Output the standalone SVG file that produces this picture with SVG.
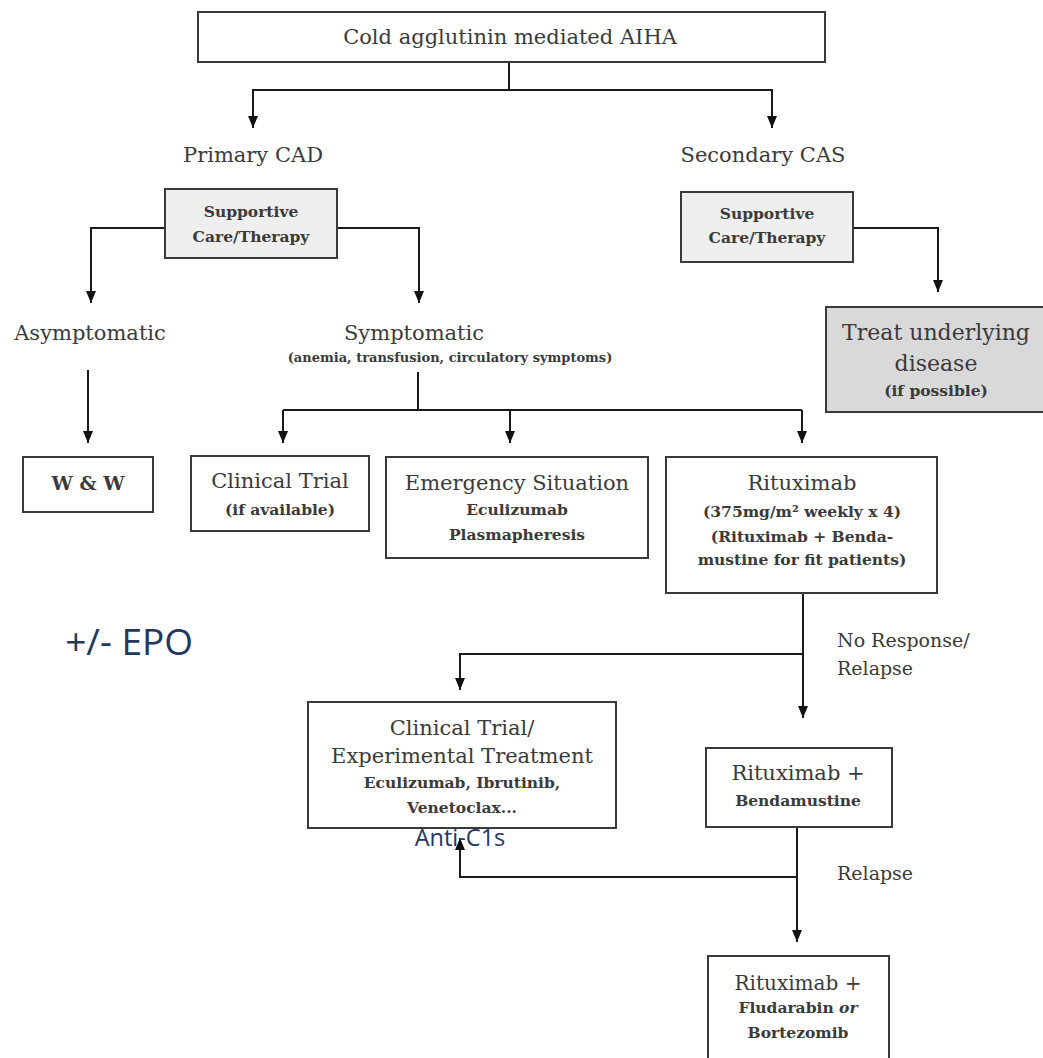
<svg xmlns="http://www.w3.org/2000/svg" width="1043" height="1058" viewBox="0 0 1043 1058">
<style>
.box{fill:#fff;stroke:#3a3a3a;stroke-width:2}
.sup{fill:#efefef;stroke:#3a3a3a;stroke-width:2}
.dark{fill:#d9d9d9;stroke:#3a3a3a;stroke-width:2}
.t{font-family:"DejaVu Serif","Liberation Serif",serif;font-size:21px;fill:#3a3a3a;text-anchor:middle}
.b{font-family:"DejaVu Serif","Liberation Serif",serif;font-size:15.5px;font-weight:bold;fill:#3a3a3a;text-anchor:middle}
.lbl{font-family:"DejaVu Serif","Liberation Serif",serif;font-size:19px;fill:#3a3a3a}
.blue{font-family:"Open Sans","Liberation Sans",sans-serif;fill:#24365e}
.c{fill:none;stroke:#1a1a1a;stroke-width:2}
</style>
<defs>
<marker id="arr" viewBox="0 0 10 12" refX="5" refY="12" markerWidth="10" markerHeight="12" markerUnits="userSpaceOnUse" orient="0">
<path d="M0,0 L10,0 L5,12 z" fill="#111"/>
</marker>
<marker id="arrUp" viewBox="0 0 10 12" refX="5" refY="0" markerWidth="10" markerHeight="12" markerUnits="userSpaceOnUse" orient="0">
<path d="M0,12 L10,12 L5,0 z" fill="#111"/>
</marker>
</defs>
<rect width="1043" height="1058" fill="#fff"/>

<g id="connectors">
<path class="c" d="M509,62 V90"/>
<path class="c" d="M509,90 H253 V128" marker-end="url(#arr)"/>
<path class="c" d="M509,90 H772 V128" marker-end="url(#arr)"/>
<path class="c" d="M165,228 H91 V303" marker-end="url(#arr)"/>
<path class="c" d="M337,228 H419 V303" marker-end="url(#arr)"/>
<path class="c" d="M88,370 V443" marker-end="url(#arr)"/>
<path class="c" d="M853,228 H938 V292" marker-end="url(#arr)"/>
<path class="c" d="M418,372 V410"/>
<path class="c" d="M283,410 H802"/>
<path class="c" d="M283,410 V443" marker-end="url(#arr)"/>
<path class="c" d="M510,410 V443" marker-end="url(#arr)"/>
<path class="c" d="M802,410 V443" marker-end="url(#arr)"/>
<path class="c" d="M803,593 V718" marker-end="url(#arr)"/>
<path class="c" d="M803,654 H460 V690" marker-end="url(#arr)"/>
<path class="c" d="M797,827 V942" marker-end="url(#arr)"/>
<path class="c" d="M797,877 H460 V838" marker-end="url(#arrUp)"/>
</g>

<g id="root">
<rect class="box" x="198" y="12" width="627" height="50"/>
<text class="t" x="510" y="44">Cold agglutinin mediated AIHA</text>
</g>

<g id="primary">
<text class="t" x="253" y="162">Primary CAD</text>
</g>
<g id="secondary">
<text class="t" x="763" y="162">Secondary CAS</text>
</g>

<g id="supportive-primary">
<rect class="sup" x="165" y="189" width="172" height="69"/>
<text class="b" x="251" y="217">Supportive</text>
<text class="b" x="251" y="242">Care/Therapy</text>
</g>

<g id="supportive-secondary">
<rect class="sup" x="681" y="192" width="172" height="70"/>
<text class="b" x="767" y="219">Supportive</text>
<text class="b" x="767" y="243">Care/Therapy</text>
</g>

<g id="treat-underlying">
<rect class="dark" x="826" y="307" width="230" height="105"/>
<text class="t" x="936" y="340" style="font-size:22px">Treat underlying</text>
<text class="t" x="936" y="371" style="font-size:22px">disease</text>
<text class="b" x="936" y="396">(if possible)</text>
</g>

<g id="asymptomatic">
<text class="t" x="90" y="340">Asymptomatic</text>
</g>

<g id="symptomatic">
<text class="t" x="414" y="340">Symptomatic</text>
<text class="b" x="450" y="362" style="font-size:13px">(anemia, transfusion, circulatory symptoms)</text>
</g>

<g id="ww">
<rect class="box" x="23" y="457" width="130" height="55"/>
<text class="t" x="88" y="490" style="font-size:19px;font-weight:bold">W &amp; W</text>
</g>

<g id="clinical-trial">
<rect class="box" x="191" y="456" width="178" height="75"/>
<text class="t" x="280" y="488">Clinical Trial</text>
<text class="b" x="280" y="515">(if available)</text>
</g>

<g id="emergency">
<rect class="box" x="386" y="457" width="262" height="101"/>
<text class="t" x="517" y="490">Emergency Situation</text>
<text class="b" x="517" y="515">Eculizumab</text>
<text class="b" x="517" y="540">Plasmapheresis</text>
</g>

<g id="rituximab">
<rect class="box" x="666" y="457" width="271" height="136"/>
<text class="t" x="802" y="490">Rituximab</text>
<text class="b" x="802" y="517">(375mg/m² weekly x 4)</text>
<text class="b" x="802" y="542">(Rituximab + Benda-</text>
<text class="b" x="802" y="565">mustine for fit patients)</text>
</g>

<g id="label-no-response">
<text class="lbl" x="837" y="647">No Response/</text>
<text class="lbl" x="837" y="675">Relapse</text>
</g>

<g id="epo">
<text class="blue" x="193" y="655" style="font-size:37px;text-anchor:end">+/- EPO</text>
</g>

<g id="experimental">
<rect class="box" x="308" y="702" width="308" height="126"/>
<text class="t" x="462" y="735">Clinical Trial/</text>
<text class="t" x="462" y="763">Experimental Treatment</text>
<text class="b" x="462" y="788">Eculizumab, Ibrutinib,</text>
<text class="b" x="462" y="813">Venetoclax...</text>
<text class="blue" x="460" y="846" style="font-size:23.5px;text-anchor:middle">Anti-C1s</text>
</g>

<g id="ritux-benda">
<rect class="box" x="706" y="748" width="186" height="79"/>
<text class="t" x="798" y="780">Rituximab +</text>
<text class="b" x="798" y="806">Bendamustine</text>
</g>

<g id="label-relapse">
<text class="lbl" x="837" y="880">Relapse</text>
</g>

<g id="ritux-fluda">
<rect class="box" x="708" y="956" width="181" height="120"/>
<text class="t" x="798" y="990" style="font-size:20px">Rituximab +</text>
<text class="b" x="798" y="1013">Fludarabin <tspan font-style="italic">or</tspan></text>
<text class="b" x="798" y="1038">Bortezomib</text>
</g>
</svg>
